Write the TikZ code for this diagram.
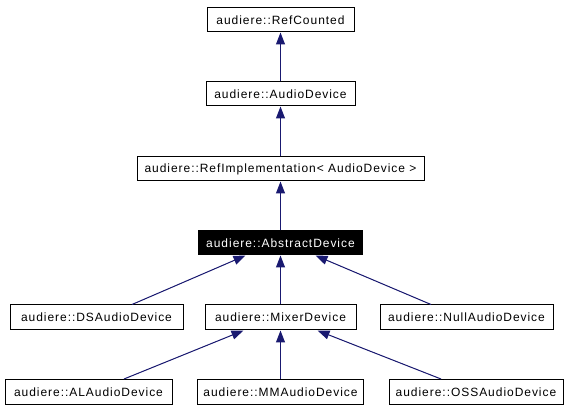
\documentclass[tikz,border=0pt]{standalone}
\usepackage{fontspec}
\setmainfont{Liberation Sans}[LetterSpace=8]
\usetikzlibrary{arrows.meta,calc}
\definecolor{edgeblue}{RGB}{25,25,112}
\begin{document}
\begin{tikzpicture}[x=1pt,y=-1pt,
  cls/.style={draw=black,line width=1pt,fill=white,inner sep=0pt,minimum height=24pt,font=\fontsize{12}{13}\selectfont,anchor=center},
  cur/.style={cls,fill=black,text=white},
  edge/.style={draw=edgeblue,line width=1pt,-{Triangle[length=12pt,width=9pt]},fill=edgeblue}]
\useasboundingbox (0,0) rectangle (573,411);
\node[cls,minimum width=147pt] (rc) at (280.5,20) {audiere::RefCounted};
\node[cls,minimum width=149pt] (ad) at (280.5,94) {audiere::AudioDevice};
\node[cls,minimum width=287pt] (ri) at (280.5,169) {audiere::RefImplementation< AudioDevice >};
\node[cur,minimum width=164pt] (abs) at (280.5,243) {audiere::AbstractDevice};
\node[cls,minimum width=173pt,minimum height=25pt] (ds) at (96.5,317.5) {audiere::DSAudioDevice};
\node[cls,minimum width=151pt,minimum height=25pt] (mix) at (280.5,317.5) {audiere::MixerDevice};
\node[cls,minimum width=173pt,minimum height=25pt] (null) at (466.5,317.5) {audiere::NullAudioDevice};
\node[cls,minimum width=167pt,minimum height=25pt] (al) at (88.5,392) {audiere::ALAudioDevice};
\node[cls,minimum width=166pt,minimum height=25pt] (mm) at (280.5,392) {audiere::MMAudioDevice};
\node[cls,minimum width=174pt,minimum height=25pt] (oss) at (476,392) {audiere::OSSAudioDevice};
\draw[edge] (ad.north) -- (rc.south);
\draw[edge] (ri.north) -- (ad.south);
\draw[edge] (abs.north) -- (ri.south);
\draw[edge] (mix.north) -- (abs.south);
\draw[edge] ($(ds.north)+(35.5,0)$) -- ($(abs.south)+(-35,0)$);
\draw[edge] ($(null.north)+(-35.5,0)$) -- ($(abs.south)+(35,0)$);
\draw[edge] (mm.north) -- (mix.south);
\draw[edge] ($(al.north)+(35.5,0)$) -- ($(mix.south)+(-37,0)$);
\draw[edge] ($(oss.north)+(-35,0)$) -- ($(mix.south)+(37,0)$);
\end{tikzpicture}
\end{document}
